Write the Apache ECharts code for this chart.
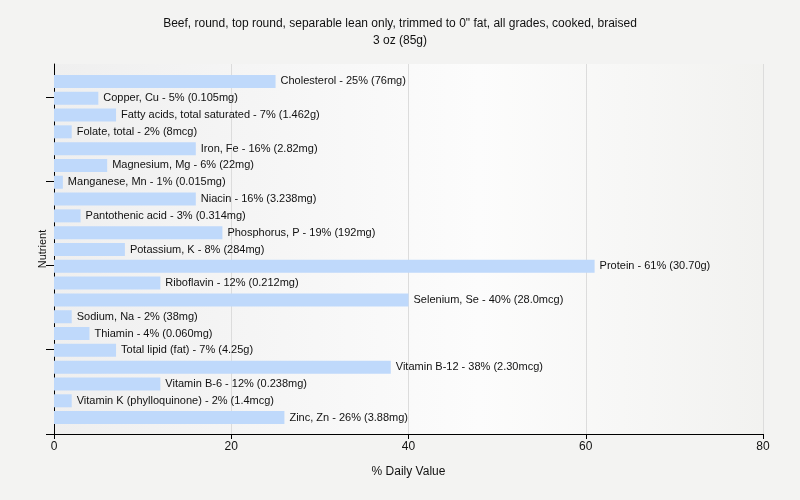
<!DOCTYPE html>
<html>
<head>
<meta charset="utf-8">
<script src="https://cdn.jsdelivr.net/npm/echarts@6/dist/echarts.min.js"></script>
<style>
html,body{margin:0;padding:0;background:#f3f3f2;}
#c{width:800px;height:500px;}
</style>
</head>
<body>
<div id="c"></div>
<script>
const nutrients = ["Cholesterol","Copper, Cu","Fatty acids, total saturated","Folate, total","Iron, Fe","Magnesium, Mg","Manganese, Mn","Niacin","Pantothenic acid","Phosphorus, P","Potassium, K","Protein","Riboflavin","Selenium, Se","Sodium, Na","Thiamin","Total lipid (fat)","Vitamin B-12","Vitamin B-6","Vitamin K (phylloquinone)","Zinc, Zn"];
const dailyValues = [25,5,7,2,16,6,1,16,3,19,8,61,12,40,2,4,7,38,12,2,26];
const amounts = ["76mg","0.105mg","1.462g","8mcg","2.82mg","22mg","0.015mg","3.238mg","0.314mg","192mg","284mg","30.70g","0.212mg","28.0mcg","38mg","0.060mg","4.25g","2.30mcg","0.238mg","1.4mcg","3.88mg"];
const xTicks = [0,20,40,60,80];
const yTickPositions = [0,1,2,3,4];

const FONT = "'Liberation Sans', Arial, sans-serif";
const chart = echarts.init(document.getElementById('c'));
chart.setOption({
  backgroundColor: '#f3f3f2',
  animation: false,
  title: {
    text: 'Beef, round, top round, separable lean only, trimmed to 0" fat, all grades, cooked, braised',
    subtext: '3 oz (85g)',
    left: 'center',
    top: 13,
    itemGap: 5,
    textStyle: {fontFamily: FONT, fontSize: 12, fontWeight: 'normal', color: '#111'},
    subtextStyle: {fontFamily: FONT, fontSize: 12, color: '#111'}
  },
  grid: [
    {left: 54, right: 37, top: 64, bottom: 66, show: true, borderWidth: 0,
     backgroundColor: {type: 'linear', x: 0, y: 0, x2: 1, y2: 0,
       colorStops: [{offset: 0, color: '#efefef'}, {offset: 0.6, color: '#fcfcfc'}, {offset: 1, color: '#f2f2f0'}]}},
    {left: 54, right: 37, top: 73, bottom: 74}
  ],
  xAxis: [
    {type: 'value', gridIndex: 0, min: xTicks[0], max: xTicks[xTicks.length-1], interval: 20,
     name: '% Daily Value', nameLocation: 'middle', nameGap: 32,
     nameTextStyle: {fontFamily: FONT, fontSize: 12, color: '#111'},
     axisLine: {show: true, lineStyle: {color: '#000', width: 1}},
     axisTick: {show: true, length: 5, lineStyle: {color: '#000'}},
     axisLabel: {fontFamily: FONT, fontSize: 12, color: '#111', margin: 7},
     splitLine: {show: true, lineStyle: {color: '#dcdcdc', width: 1}}},
    {type: 'value', gridIndex: 1, min: 0, max: 80, show: false}
  ],
  yAxis: [
    {type: 'value', gridIndex: 0, min: 0, max: 4.39,
     name: 'Nutrient', nameLocation: 'middle', nameGap: 6, nameRotate: 90,
     nameTextStyle: {fontFamily: FONT, fontSize: 11, color: '#111'},
     axisLine: {show: true, onZero: false, lineStyle: {color: '#000', width: 1}},
     axisTick: {show: true, length: 8, customValues: yTickPositions, lineStyle: {color: '#000'}},
     axisLabel: {show: false},
     splitLine: {show: false}},
    {type: 'category', gridIndex: 1, data: nutrients, inverse: true, show: false}
  ],
  series: [{
    type: 'bar',
    xAxisIndex: 1, yAxisIndex: 1,
    data: dailyValues,
    barWidth: 13,
    itemStyle: {color: '#bfd9fb'},
    label: {
      show: true, position: 'right', distance: 5,
      fontFamily: FONT, fontSize: 11, color: '#111',
      formatter: p => nutrients[p.dataIndex] + ' - ' + dailyValues[p.dataIndex] + '% (' + amounts[p.dataIndex] + ')'
    }
  }]
});
</script>
</body>
</html>
